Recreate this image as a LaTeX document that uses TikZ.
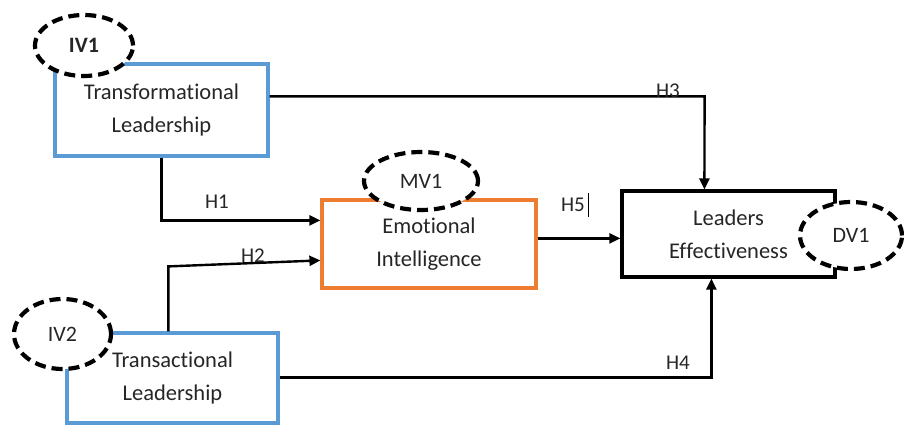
\documentclass[tikz,border=0pt]{standalone}
\usepackage{fontspec}
\setmainfont{Carlito}[Ligatures={NoCommon,NoContextual}]
\usetikzlibrary{arrows.meta,shapes.geometric,calc}
\definecolor{boxblue}{RGB}{91,155,213}
\definecolor{boxorange}{RGB}{237,125,49}
\newcommand{\nl}{\kern0pt }
\tikzset{
  varbox/.style={draw, line width=3.2pt, align=center, inner sep=0pt, font=\fontsize{22.5}{33}\selectfont, fill=white, text=black!85},
  tag/.style={ellipse, draw=black, line width=4.2pt, dash pattern=on 11pt off 6pt, fill=white, inner sep=0pt, font=\fontsize{22}{26}\selectfont, text=black!85},
  conn/.style={line width=2.4pt, -{Triangle[length=11pt,width=10pt]}},
  hlabel/.style={font=\fontsize{21}{24}\selectfont, text=black!85, inner sep=0pt},
}
\begin{document}
\begin{tikzpicture}[x=1pt,y=-1pt]
\useasboundingbox (0,0) rectangle (904,425);
% boxes
\node[varbox, draw=boxblue, minimum width=213pt, minimum height=92pt] (TL) at (161.5,110) {Transformat\nl ional\\Leadership};
\node[varbox, draw=boxblue, minimum width=211pt, minimum height=90pt] (TA) at (172.5,378) {Transact\nl ional\\Leadership};
\node[varbox, draw=boxorange, minimum width=214pt, minimum height=88pt] (EI) at (429,244) {Emot\nl ional\\Intelligence};
\node[varbox, draw=black, minimum width=213pt, minimum height=86pt] (LE) at (728.5,234) {Leaders\\Ef\nl fect\nl iveness};
% connectors
\draw[conn] ($(TL.south west)+(108,0)$) |- ($(EI.north west)+(0,22)$);
\draw[conn] ($(TA.north west)+(103,0)$) -- ++(0,-65) -- ($(EI.north west)+(0,62)$);
\draw[conn] ($(TL.north east)+(0,34)$) -- ++(435,0) -- ($(LE.north west)+(84,0)$);
\draw[conn] ($(TA.north east)+(0,46)$) -| ($(LE.south west)+(91,0)$);
\draw[conn] ($(EI.north east)+(0,40)$) -- ($(LE.north west)+(0,49)$);
% labels
\node[hlabel] (h1) at (217,202) {H1};
\node[hlabel] (h2) at (253,256) {H2};
\node[hlabel] (h3) at (668,91) {H3};
\node[hlabel] (h4) at (678,363) {H4};
\node[hlabel] (h5) at (573,205) {H5};
\coordinate (barTop) at (588,193);
\coordinate (barBot) at (588,217);
\draw[line width=1pt] (barTop) -- (barBot);
% tags
\node[tag, minimum width=98pt, minimum height=61pt, font=\fontsize{22}{26}\selectfont\bfseries] (IV1) at (84,45.5) {\raisebox{-3pt}{IV1}};
\node[tag, minimum width=114pt, minimum height=58pt] (MV1) at (421,181) {MV1};
\node[tag, minimum width=102pt, minimum height=67pt] (DV1) at (851,235.5) {DV1};
\node[tag, minimum width=97pt, minimum height=70pt] (IV2) at (62.5,334) {IV2};
\end{tikzpicture}
\end{document}
